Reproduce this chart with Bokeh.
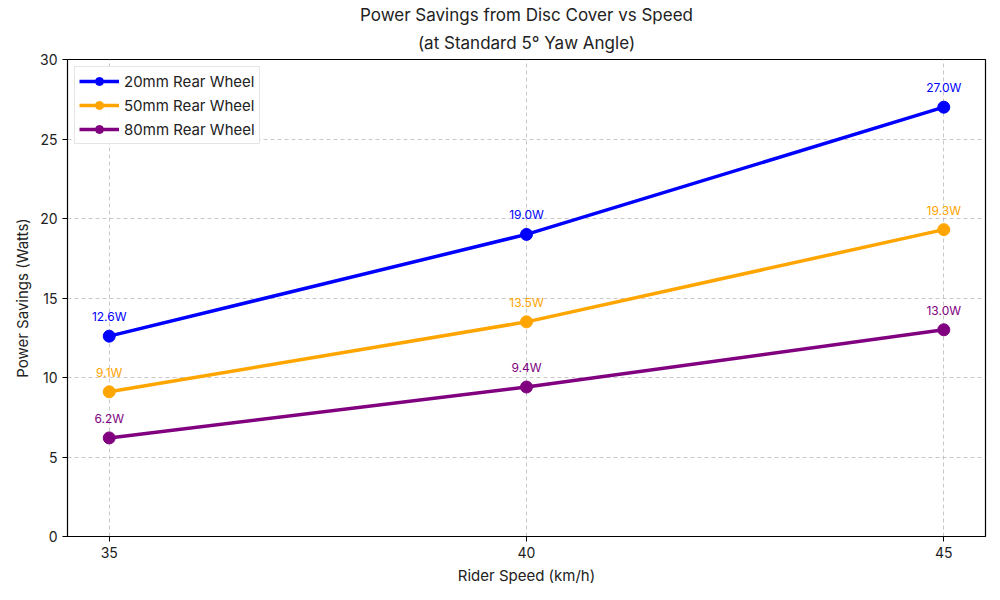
from bokeh.plotting import figure
from bokeh.models import ColumnDataSource, FixedTicker, Range1d, Title
from bokeh.core.properties import value
from bokeh.embed import file_html
from bokeh.resources import INLINE

speeds = [35, 40, 45]
series_names = ["20mm Rear Wheel", "50mm Rear Wheel", "80mm Rear Wheel"]
w20 = [12.6, 19.0, 27.0]
w50 = [9.1, 13.5, 19.3]
w80 = [6.2, 9.4, 13.0]
colors = ["#0000ff", "#ffa500", "#800080"]
y_ticks = [0, 5, 10, 15, 20, 25, 30]
x_ticks = [35, 40, 45]
title_lines = ["Power Savings from Disc Cover vs Speed", "(at Standard 5° Yaw Angle)"]

FONT = "Inter"

p = figure(width=992, height=592, output_backend="svg", toolbar_location=None,
           x_range=Range1d(34.5, 45.5), y_range=Range1d(0, 30),
           title=title_lines[0],
           min_border_left=67, min_border_right=7, min_border_top=59, min_border_bottom=56)

def style_title(t):
    t.align = "center"
    t.text_font = FONT
    t.text_font_size = "17px"
    t.text_font_style = "normal"
    t.text_color = "#222222"

style_title(p.title)
p.title.standoff = 0
t2 = Title(text=title_lines[1])
style_title(t2)
t2.standoff = 13
p.add_layout(t2, "above")

p.outline_line_color = "black"
p.outline_line_width = 1.2

for ax in (p.xaxis, p.yaxis):
    ax.axis_line_color = None
    ax.major_tick_line_color = "black"
    ax.major_tick_out = 5
    ax.major_tick_in = 0
    ax.minor_tick_line_color = None
    ax.major_label_text_font = FONT
    ax.major_label_text_font_size = "14px"
    ax.major_label_text_color = "#222222"
    ax.axis_label_text_font = FONT
    ax.axis_label_text_font_size = "15px"
    ax.axis_label_text_font_style = "normal"
    ax.axis_label_text_color = "#222222"

p.xaxis.ticker = FixedTicker(ticks=x_ticks)
p.yaxis.ticker = FixedTicker(ticks=y_ticks)
p.xaxis.axis_label = "Rider Speed (km/h)"
p.yaxis.axis_label = "Power Savings (Watts)"

p.xgrid.ticker = FixedTicker(ticks=x_ticks)
p.ygrid.ticker = FixedTicker(ticks=y_ticks)
for g in (p.xgrid, p.ygrid):
    g.grid_line_color = "#b0b0b0"
    g.grid_line_dash = "4 3"
    g.grid_line_alpha = 0.7

for name, vals, c in zip(series_names, [w20, w50, w80], colors):
    src = ColumnDataSource(dict(x=speeds, y=vals, lab=[f"{v:.1f}W" for v in vals]))
    p.line("x", "y", source=src, line_color=c, line_width=3.5, legend_label=name)
    p.scatter("x", "y", source=src, size=12, fill_color=c, line_color=c, legend_label=name)
    p.text("x", "y", text="lab", source=src, y_offset=-12, text_align="center",
           text_baseline="bottom", text_color=c, text_font=value(FONT), text_font_size="12px")

p.legend.location = "top_left"
p.legend.label_text_font = FONT
p.legend.label_text_font_size = "15px"
p.legend.label_text_color = "#222222"
p.legend.border_line_color = "#cccccc"
p.legend.border_line_width = 1
p.legend.background_fill_alpha = 0.9
p.legend.glyph_width = 40
p.legend.label_height = 20
p.legend.glyph_height = 20
p.legend.spacing = 4
p.legend.padding = 4
p.legend.margin = 7

open("out.html", "w").write(file_html(p, INLINE))
